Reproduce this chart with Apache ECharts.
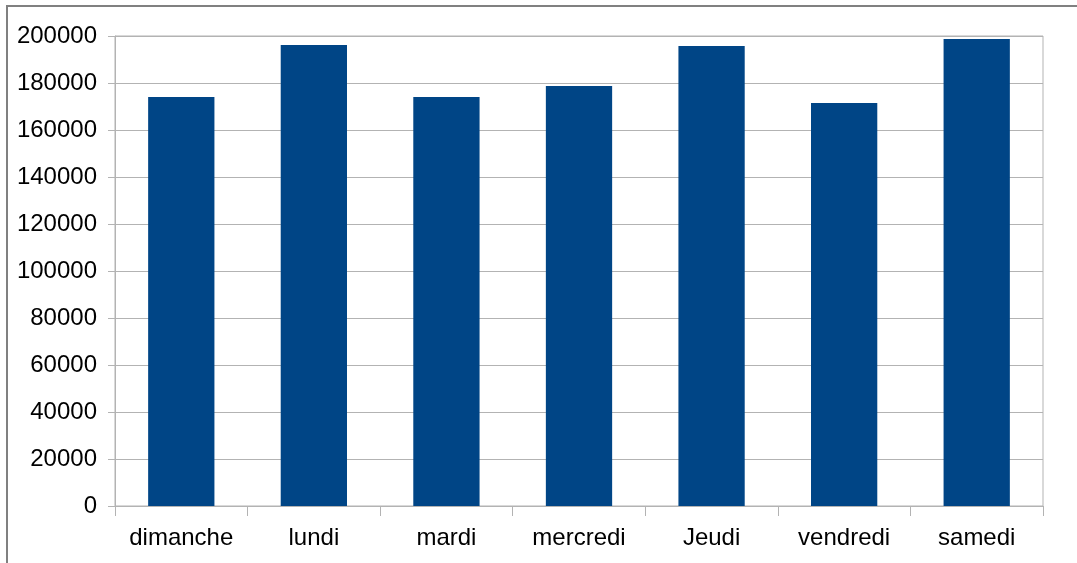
<!DOCTYPE html>
<html><head><meta charset="utf-8">
<script src="https://cdn.jsdelivr.net/npm/echarts@6/dist/echarts.min.js"></script>
<style>html,body{margin:0;padding:0;background:#fff}#c{width:1077px;height:563px}</style>
</head><body><div id="c"></div>
<script>
const categories = ['dimanche','lundi','mardi','mercredi','Jeudi','vendredi','samedi'];
const values = [174000, 196200, 174000, 178700, 195700, 171500, 198700];
const yTicks = {min: 0, max: 200000, interval: 20000};

const chart = echarts.init(document.getElementById('c'), null, {renderer:'canvas'});
chart.setOption({
  animation: false,
  backgroundColor: '#ffffff',
  textStyle: {fontFamily: 'Liberation Sans'},
  graphic: [{
    type: 'rect', z: 100, silent: true,
    shape: {x: 7, y: 6, width: 1200, height: 700},
    style: {fill: 'none', stroke: '#808080', lineWidth: 2}
  }],
  grid: {left: 115, right: 34, top: 36, bottom: 57, show: true, borderColor: '#b3b3b3', borderWidth: 1, backgroundColor: 'transparent'},
  xAxis: {
    type: 'category', data: categories,
    axisLine: {lineStyle: {color: '#b3b3b3'}},
    axisTick: {show: true, interval: 0, length: 10, lineStyle: {color: '#b3b3b3'}},
    axisLabel: {color: '#000', fontSize: 24, margin: 20, interval: 0, fontFamily: 'Liberation Sans'}
  },
  yAxis: {
    type: 'value', min: yTicks.min, max: yTicks.max, interval: yTicks.interval,
    axisLine: {show: true, lineStyle: {color: '#b3b3b3'}},
    axisTick: {show: true, length: 7, lineStyle: {color: '#b3b3b3'}},
    splitLine: {lineStyle: {color: '#b3b3b3'}},
    axisLabel: {color: '#000', fontSize: 24, margin: 18, fontFamily: 'Liberation Sans', formatter: v => String(v)}
  },
  series: [{
    type: 'bar', data: values, barWidth: '50%',
    itemStyle: {color: '#004586'}
  }]
});
</script></body></html>
